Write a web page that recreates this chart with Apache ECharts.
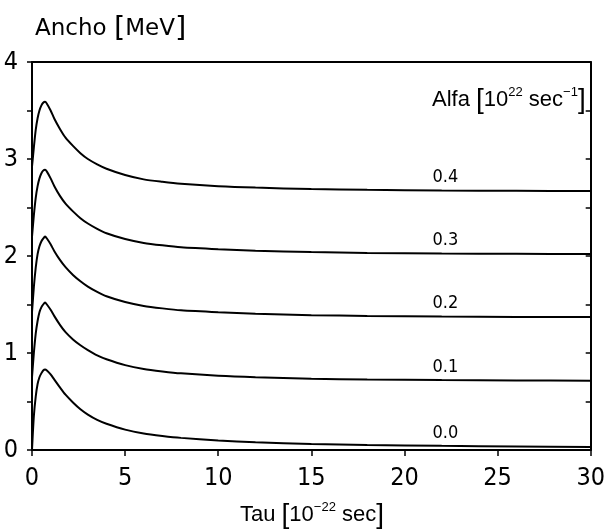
<!DOCTYPE html>
<html>
<head>
<meta charset="utf-8">
<script src="https://cdn.jsdelivr.net/npm/echarts@6/dist/echarts.min.js"></script>
<style>html,body{margin:0;padding:0;background:#fff;}#c{width:608px;height:532px;}</style>
</head>
<body>
<div id="c"></div>
<script>
const tau    = [0, 0.1, 0.2, 0.3, 0.4, 0.5, 0.6, 0.7, 0.8, 1.0, 1.2, 1.5, 1.8, 2.2, 2.6, 3.0, 3.5, 4, 5, 6, 7, 8, 10, 12, 15, 18, 22, 26, 30];
const alfa00 = [0, 0.35, 0.55, 0.68, 0.75, 0.79, 0.82, 0.83, 0.82, 0.78, 0.725, 0.645, 0.57, 0.49, 0.42, 0.365, 0.31, 0.27, 0.21, 0.17, 0.145, 0.125, 0.098, 0.08, 0.063, 0.052, 0.043, 0.036, 0.03];
const alfa01 = [0.75, 1.0, 1.2, 1.33, 1.42, 1.47, 1.5, 1.52, 1.5, 1.445, 1.38, 1.29, 1.215, 1.14, 1.08, 1.03, 0.975, 0.935, 0.875, 0.835, 0.81, 0.79, 0.765, 0.75, 0.735, 0.727, 0.721, 0.717, 0.715];
const alfa02 = [1.42, 1.68, 1.88, 2.02, 2.1, 2.15, 2.18, 2.2, 2.18, 2.12, 2.05, 1.96, 1.885, 1.805, 1.74, 1.685, 1.63, 1.585, 1.525, 1.485, 1.46, 1.44, 1.42, 1.405, 1.39, 1.382, 1.376, 1.372, 1.37];
const alfa03 = [2.2, 2.42, 2.6, 2.72, 2.8, 2.85, 2.88, 2.89, 2.87, 2.8, 2.72, 2.62, 2.54, 2.46, 2.39, 2.335, 2.28, 2.235, 2.175, 2.135, 2.11, 2.09, 2.07, 2.055, 2.04, 2.032, 2.026, 2.022, 2.02];
const alfa04 = [2.92, 3.12, 3.3, 3.42, 3.5, 3.55, 3.58, 3.59, 3.57, 3.5, 3.415, 3.31, 3.22, 3.135, 3.06, 3.0, 2.945, 2.9, 2.835, 2.79, 2.765, 2.745, 2.72, 2.705, 2.69, 2.682, 2.676, 2.672, 2.67];
const seriesNames = ['0.0', '0.1', '0.2', '0.3', '0.4'];
const seriesValues = [alfa00, alfa01, alfa02, alfa03, alfa04];
const xTicks = [0, 5, 10, 15, 20, 25, 30];
const yTicks = [0, 1, 2, 3, 4];
const labelTau = 22.2;

const FONT = '"Liberation Sans Narrow", "DejaVu Sans Condensed", "Liberation Sans", sans-serif';
const TFONT = '"DejaVu Sans", "Liberation Sans", sans-serif';
const LFONT = '"Liberation Sans", Arial, sans-serif';
const chart = echarts.init(document.getElementById('c'), null, {renderer: 'canvas'});

const series = seriesValues.map((vals, i) => ({
  type: 'line',
  name: seriesNames[i],
  data: tau.map((t, k) => [t, vals[k]]),
  showSymbol: false,
  smooth: 0.25,
  lineStyle: {color: '#000', width: 2},
  silent: true,
  markPoint: {
    symbol: 'circle',
    symbolSize: 0,
    silent: true,
    data: [{coord: [labelTau, vals[tau.indexOf(22)]]}],
    label: {
      show: true, position: 'top', distance: 4,
      formatter: seriesNames[i],
      color: '#000', fontSize: 18, fontFamily: FONT
    }
  }
}));

chart.setOption({
  animation: false,
  backgroundColor: '#fff',
  grid: {left: 32, right: 16, top: 62, bottom: 82},
  title: [
    {text: 'Ancho {b|[}MeV{b|]}', left: 35, top: 15, padding: 0,
     textStyle: {fontFamily: TFONT, fontSize: 23, fontWeight: 'normal', color: '#000',
       rich: {b: {fontSize: 29, fontFamily: TFONT, color: '#000'}}}},
    {text: 'Alfa {b|[}10{s|22} sec{s|−1}{b|]}', left: 432, top: 86, padding: 0,
     textStyle: {fontFamily: LFONT, fontSize: 22, fontWeight: 'normal', color: '#000',
       rich: {b: {fontSize: 28, fontFamily: LFONT, color: '#000'},
              s: {fontSize: 13, fontFamily: LFONT, color: '#000', verticalAlign: 'top', padding: [0,0,12,0]}}}},
    {text: 'Tau {b|[}10{s|−22} sec{b|]}', left: 240, top: 501, padding: 0,
     textStyle: {fontFamily: LFONT, fontSize: 22, fontWeight: 'normal', color: '#000',
       rich: {b: {fontSize: 28, fontFamily: LFONT, color: '#000'},
              s: {fontSize: 13, fontFamily: LFONT, color: '#000', verticalAlign: 'top', padding: [0,0,12,0]}}}}
  ],
  xAxis: [
    {type: 'value', min: 0, max: 30, interval: 5, position: 'bottom',
     axisLine: {show: true, onZero: false, lineStyle: {color: '#000', width: 2}},
     axisTick: {show: true, length: 6, lineStyle: {color: '#000', width: 1.5}},
     axisLabel: {color: '#000', fontSize: 25, fontFamily: FONT, margin: 16,
       formatter: v => xTicks.includes(v) ? String(v) : ''},
     splitLine: {show: false}},
    {type: 'value', min: 0, max: 30, position: 'top',
     axisLine: {show: true, onZero: false, lineStyle: {color: '#000', width: 2}},
     axisTick: {show: false}, axisLabel: {show: false}, splitLine: {show: false}}
  ],
  yAxis: [
    {type: 'value', min: 0, max: 4, interval: 0.5, position: 'left',
     axisLine: {show: true, onZero: false, lineStyle: {color: '#000', width: 2}},
     axisTick: {show: true, length: 5, lineStyle: {color: '#000', width: 1.5}},
     axisLabel: {color: '#000', fontSize: 25, fontFamily: FONT, margin: 14,
       formatter: v => yTicks.includes(v) ? String(v) : ''},
     splitLine: {show: false}},
    {type: 'value', min: 0, max: 4, interval: 0.5, position: 'right',
     axisLine: {show: true, onZero: false, lineStyle: {color: '#000', width: 2}},
     axisTick: {show: true, inside: true, length: 5, lineStyle: {color: '#000', width: 1.5}},
     axisLabel: {show: false}, splitLine: {show: false}}
  ],
  series: series
});
</script>
</body>
</html>
